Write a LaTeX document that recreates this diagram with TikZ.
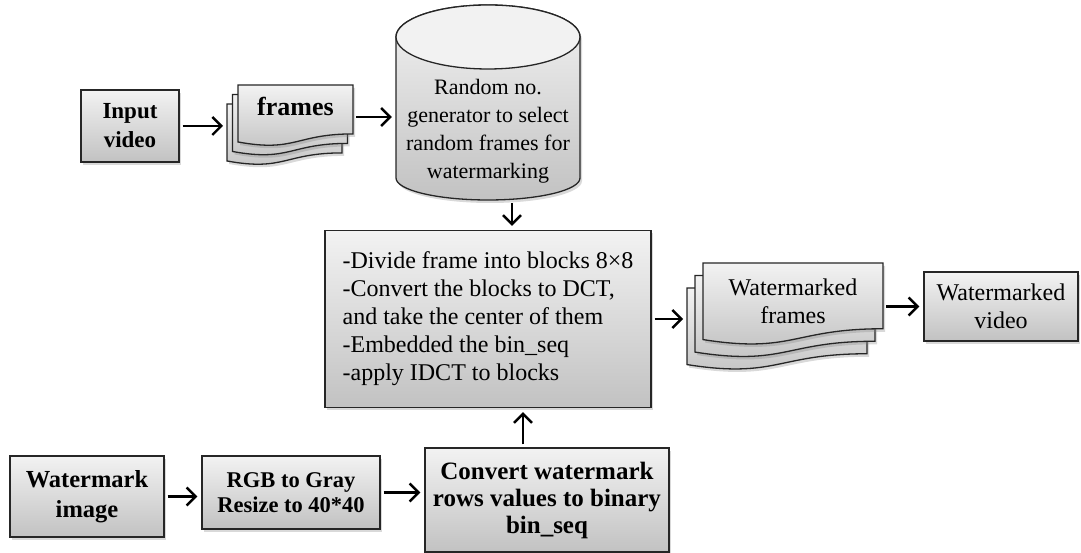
\documentclass[tikz,border=0pt]{standalone}
\usepackage{fontspec}
\setmainfont{Liberation Serif}
\usetikzlibrary{arrows.meta,shadows}

\definecolor{boxtop}{gray}{0.95}
\definecolor{boxbot}{gray}{0.76}

\tikzset{
	shade/.style={draw=black!85, line width=1.3pt, top color=boxtop, bottom color=boxbot, drop shadow={shadow xshift=2pt, shadow yshift=-3pt, opacity=0.3}},
	blk/.style={shade, align=center, inner sep=2pt},
	arr/.style={-{Straight Barb[length=9pt,width=18pt]}, line width=2.4pt, shorten <=3pt, shorten >=4pt},
	bld/.style={font=\bfseries\fontsize{24}{29}\selectfont},
	reg/.style={font=\fontsize{24}{28}\selectfont},
}

% one sheet of a stack: top left x, top left y, width, height
\newcommand{\docsheet}[4]{
	\draw[shade] (#1,#2) -- ({#1+#3},#2) -- ({#1+#3},{#2-0.802*#4}) .. controls ({#1+0.5*#3},{#2-0.802*#4}) and ({#1+0.5*#3},{#2-1.1075*#4}) .. (#1,{#2-0.934*#4}) -- cycle;
}

\begin{document}
\begin{tikzpicture}[x=1pt, y=1pt]
	\useasboundingbox (0,0) rectangle (1081,553);

	\node[blk, font=\bfseries\fontsize{23}{29}\selectfont, minimum width=98pt, minimum height=72pt](invid) at (130,427){Input\\video};

	\docsheet{227}{449}{115}{61}
	\docsheet{232.5}{458.5}{115}{61}
	\docsheet{238}{468}{115}{61}
	\coordinate (frback) at (227,0);
	\node[font=\bfseries\fontsize{26}{28}\selectfont, minimum width=115pt, inner sep=0pt](frm) at (295.5,447){frames};

	\draw[shade] (396,516) -- (396,375) arc[start angle=180, end angle=360, x radius=92, y radius=22] -- (580,516) arc[start angle=0, end angle=180, x radius=92, y radius=32] -- cycle;
	\draw[line width=1.3pt, draw=black!85, fill=boxtop] (488,516) ellipse[x radius=92, y radius=32];
	\node[font=\fontsize{22}{28}\selectfont, align=center, minimum width=184pt, minimum height=138pt, inner sep=0pt](rng) at (488,422){Random no.\\generator to select\\random frames for\\watermarking};

	\node[blk, reg, align=left, minimum width=326pt, minimum height=177pt](emb) at (488,234){-Divide frame into blocks 8×8\\-Convert the blocks to DCT,\\and take the center of them\\-Embedded the bin\_seq\\-apply IDCT to blocks};

	\docsheet{687}{265}{180}{82}
	\docsheet{695}{277.5}{180}{82}
	\docsheet{703}{290}{180}{82}
	\coordinate (wfback) at (687,0);
	\node[reg, align=center, minimum width=180pt, inner sep=0pt](wfrm) at (793,252){Watermarked\\frames};

	\node[blk, reg, minimum width=154pt, minimum height=69pt](wvid) at (1001,246.5){Watermarked\\video};

	\node[blk, font=\bfseries\fontsize{24.5}{30}\selectfont, minimum width=154pt, minimum height=81pt](wmimg) at (87,56.5){Watermark\\image};
	\node[blk, font=\bfseries\fontsize{22.5}{25}\selectfont, minimum width=178pt, minimum height=73pt](rgb) at (291,60.5){RGB to Gray\\Resize to 40*40};
	\node[blk, font=\bfseries\fontsize{25}{27}\selectfont, minimum width=244pt, minimum height=104pt](conv) at (547,53){Convert watermark\\rows values to binary\\bin\_seq};

	\draw[arr] (invid.east) -- (invid.east -| frback);
	\draw[arr] ([yshift=-11pt]frm.east) -- ([yshift=-11pt]frm.east -| rng.west);
	\draw[arr] ([xshift=24pt]rng.south) -- ([xshift=24pt]emb.north);
	\draw[arr] (emb.east) -- (emb.east -| wfback);
	\draw[arr] (wfrm.east |- wvid.west) -- (wvid.west);
	\draw[arr] (wmimg.east) -- (wmimg.east -| rgb.west);
	\draw[arr] (rgb.east) -- (rgb.east -| conv.west);
	\draw[arr] ([xshift=35pt]emb.south |- conv.north) -- ([xshift=35pt]emb.south);
\end{tikzpicture}
\end{document}
